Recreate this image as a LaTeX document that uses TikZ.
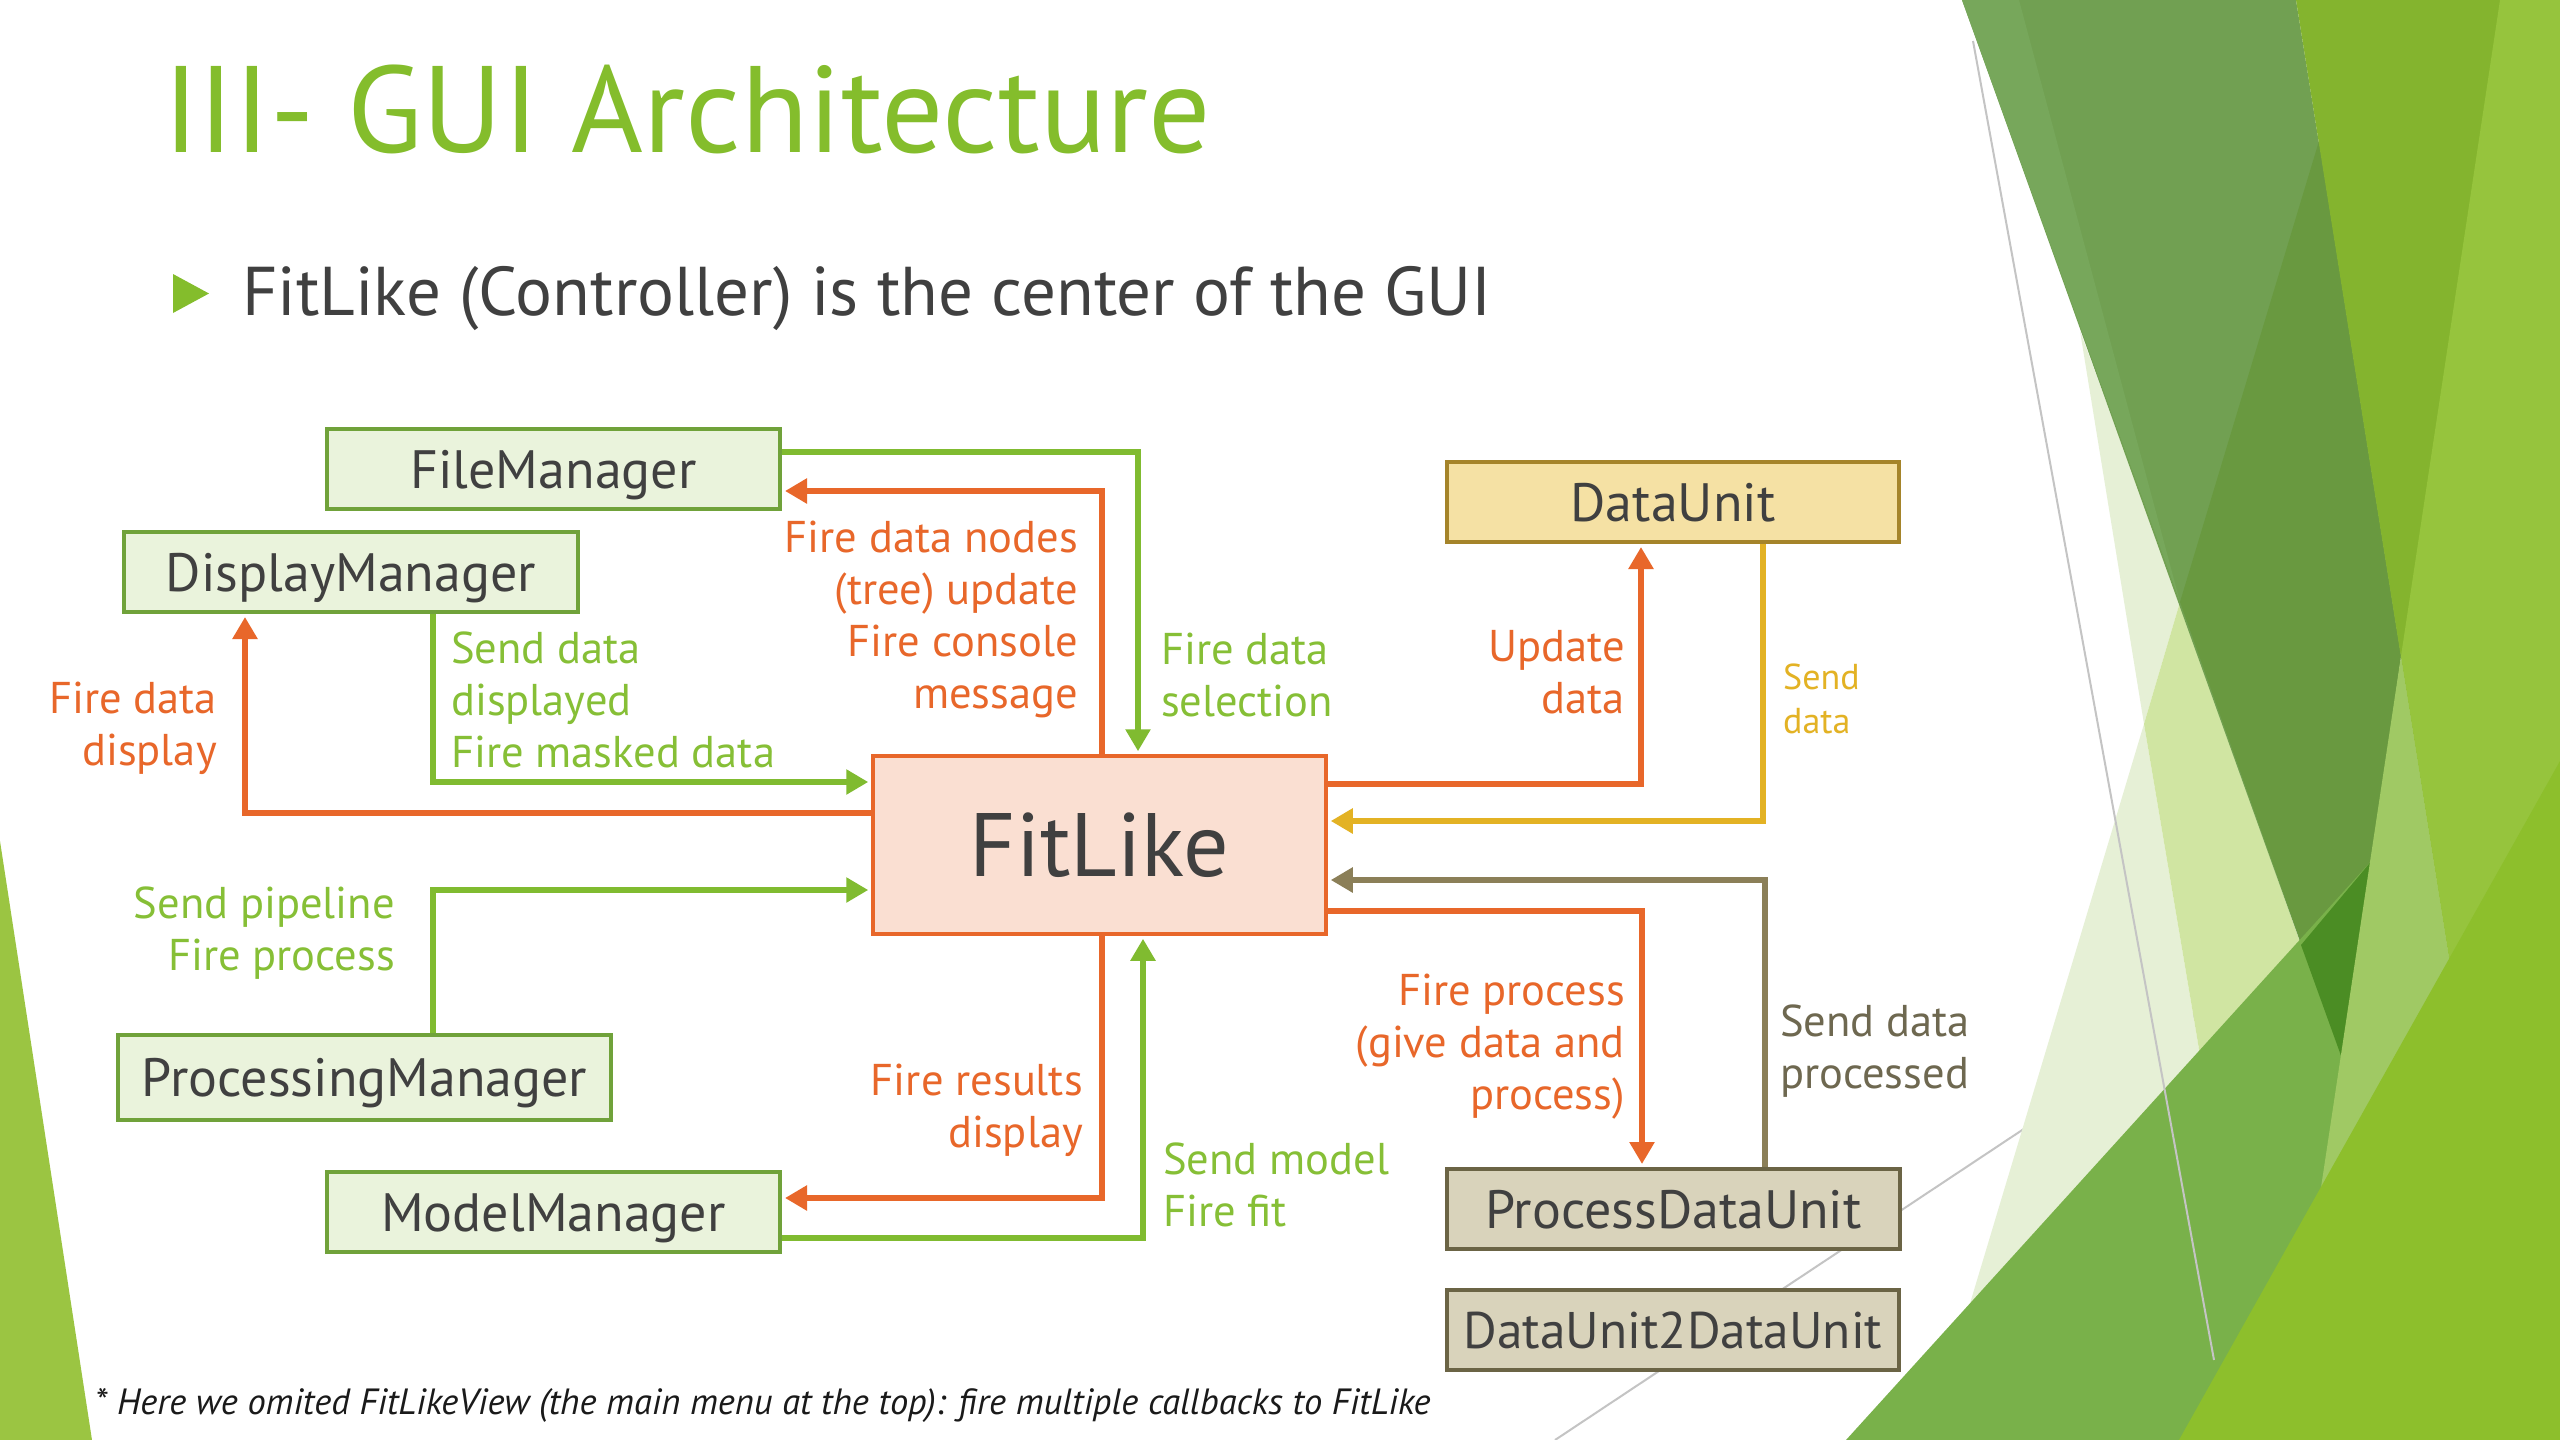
\documentclass[tikz,border=0pt]{standalone}
\usepackage{fontspec}
\setmainfont{PT Sans}
\usetikzlibrary{arrows.meta}
\definecolor{titlegreen}{HTML}{84BD2C}
\definecolor{lgreen}{HTML}{80BB30}
\definecolor{lbltxtg}{HTML}{86BF36}
\definecolor{boxgreen}{HTML}{EAF3DC}
\definecolor{boxgreenb}{HTML}{70A23A}
\definecolor{orng}{HTML}{E8672A}
\definecolor{fitfill}{HTML}{FADFD2}
\definecolor{yel}{HTML}{E3B224}
\definecolor{dufill}{HTML}{F5E1A4}
\definecolor{duborder}{HTML}{A5842A}
\definecolor{brn}{HTML}{8B7F58}
\definecolor{pdufill}{HTML}{D9D3BB}
\definecolor{pduborder}{HTML}{6B6445}
\definecolor{txt}{HTML}{404040}
\definecolor{brntxt}{HTML}{6E6850}
\definecolor{foot}{HTML}{1A1A1A}
\definecolor{leftg}{HTML}{9BC542}
\definecolor{vpale}{HTML}{E6F0D6}
\definecolor{pale}{HTML}{D0E5A2}
\definecolor{muted}{HTML}{71A052}
\definecolor{mutedl}{HTML}{77A75B}
\definecolor{mutedd}{HTML}{699940}
\definecolor{rone}{HTML}{84B42E}
\definecolor{band}{HTML}{79B14A}
\definecolor{bandd}{HTML}{4B8D24}
\definecolor{rtwo}{HTML}{A0C964}
\definecolor{rboth}{HTML}{96C43D}
\definecolor{cgreen}{HTML}{8DBF2C}
\definecolor{gline}{HTML}{C4C4C4}
\begin{document}
\begin{tikzpicture}[x=1pt,y=-1pt,
  box/.style={draw, line width=4pt, minimum height=80pt, inner sep=0pt,
    text=txt, font=\fontsize{54}{60}\selectfont, text height=38pt, text depth=0pt},
  gbox/.style={box, fill=boxgreen, draw=boxgreenb},
  lbl/.style={inner sep=0pt, font=\fontsize{44.5}{52}\selectfont},
  conn/.style={line width=6pt, -{Triangle[length=22pt,width=24pt]}, shorten >=3pt}]
\useasboundingbox (0,0) rectangle (2560,1440);
\fill[white] (0,0) rectangle (2560,1440);
% ---- decorative background ----
\fill[leftg] (0,841) -- (0,1440) -- (92,1440) -- cycle;
\draw[gline, line width=2pt] (1555,1440) -- (2301,945);
\fill[vpale] (2144,724) -- (1929,1440) -- (2100,1440) -- (2200,1055) -- cycle;
\fill[vpale] (2080,331) -- (2144,724) -- (2180,602) -- cycle;
\fill[pale] (2144,724) -- (2180,602) -- (2301,945) -- (2200,1055) -- cycle;
\fill[muted] (1962,0) -- (2296,0) -- (2401,656) -- (2344,1064) -- cycle;
\fill[mutedl] (1962,0) -- (2019,0) -- (2180,602) -- cycle;
\fill[mutedd] (2319,141) -- (2180,602) -- (2344,1064) -- (2401,656) -- cycle;
\fill[rone] (2296,0) -- (2560,0) -- (2560,1440) -- (2526,1440) -- cycle;
\fill[band] (1846,1440) -- (2374,858) -- (2283,1440) -- cycle;
\fill[bandd] (2301,945) -- (2374,858) -- (2344,1064) -- cycle;
\fill[rtwo] (2401,656) -- (2283,1440) -- (2526,1440) -- cycle;
\fill[rboth] (2500,0) -- (2560,0) -- (2560,1440) -- (2526,1440) -- (2401,656) -- cycle;
\fill[cgreen] (2179,1440) -- (2560,761) -- (2560,1440) -- cycle;
\draw[gline, line width=2pt] (1973,41) -- (2214,1360);
% ---- title ----
\node[anchor=base west, inner sep=0pt, text=titlegreen, font=\fontsize{123}{130}\selectfont] (title) at (163,152) {III- GUI Architecture};
\fill[titlegreen] (173,274) -- (173,313) -- (209,293.5) -- cycle;
\node[anchor=base west, inner sep=0pt, text=txt, font=\fontsize{69}{80}\selectfont] (sub) at (242,315) {FitLike (Controller) is the center of the GUI};
% ---- boxes ----
\node[gbox, minimum width=453pt] (fm) at (553.5,469) {FileManager};
\node[gbox, minimum width=454pt] (dm) at (351,572) {DisplayManager};
\node[gbox, minimum width=493pt, minimum height=85pt] (pm) at (364.5,1077.5) {ProcessingManager};
\node[gbox, minimum width=453pt] (mm) at (553.5,1212) {ModelManager};
\node[box, fill=fitfill, draw=orng, line width=3.5pt, minimum width=453pt, minimum height=178pt, font=\fontsize{90}{100}\selectfont, text height=63pt] (fl) at (1099.5,845) {FitLike};
\node[box, fill=dufill, draw=duborder, minimum width=452pt] (du) at (1673,502) {DataUnit};
\node[box, fill=pdufill, draw=pduborder, minimum width=453pt] (pdu) at (1673.5,1209) {ProcessDataUnit};
\node[box, fill=pdufill, draw=pduborder, minimum width=452pt, font=\fontsize{51.5}{60}\selectfont, text height=36pt] (dd) at (1673,1330) {DataUnit2DataUnit};
% ---- connector corners ----
\coordinate (g1) at (1138,452);
\coordinate (o2) at (1102,491);
\coordinate (g3) at (433,782);
\coordinate (o4) at (245,813);
\coordinate (g5) at (433,890);
\coordinate (o6) at (1102,1198);
\coordinate (g7) at (1143,1238);
\coordinate (o8) at (1641,784);
\coordinate (y9) at (1763,821);
\coordinate (b10) at (1765,880);
\coordinate (o11) at (1642,911);
% ---- connectors ----
\draw[conn, lgreen] (fm.east |- g1) -- (g1) -- (fl.north -| g1);
\draw[conn, orng] (fl.north -| o2) -- (o2) -- (fm.east |- o2);
\draw[conn, lgreen] (dm.south -| g3) -- (g3) -- (fl.west |- g3);
\draw[conn, orng] (fl.west |- o4) -- (o4) -- (dm.south -| o4);
\draw[conn, lgreen] (pm.north -| g5) -- (g5) -- (fl.west |- g5);
\draw[conn, orng] (fl.south -| o6) -- (o6) -- (mm.east |- o6);
\draw[conn, lgreen] (mm.east |- g7) -- (g7) -- (fl.south -| g7);
\draw[conn, orng] (fl.east |- o8) -- (o8) -- (du.south -| o8);
\draw[conn, yel] (du.south -| y9) -- (y9) -- (fl.east |- y9);
\draw[conn, brn] (pdu.north -| b10) -- (b10) -- (fl.east |- b10);
\draw[conn, orng] (fl.east |- o11) -- (o11) -- (pdu.north -| o11);
% ---- labels ----
\node[lbl, text=orng, anchor=east, align=right] (l1) at (1078,619) {Fire data nodes\\(tree) update\\Fire console\\message};
\node[lbl, text=lbltxtg, anchor=west, align=left] (l2) at (1161,675) {Fire data\\selection};
\node[lbl, text=lbltxtg, anchor=west, align=left] (l3) at (451,700) {Send data\\displayed\\Fire masked data};
\node[lbl, text=orng, anchor=east, align=right] (l4) at (217,728) {Fire data\\display};
\node[lbl, text=lbltxtg, anchor=east, align=right] (l5) at (395,933) {Send pipeline\\Fire process};
\node[lbl, text=orng, anchor=east, align=right] (l6) at (1083,1110) {Fire results\\display};
\node[lbl, text=lbltxtg, anchor=west, align=left] (l7) at (1163,1185) {Send model\\Fire fit};
\node[lbl, text=orng, anchor=east, align=right] (l8) at (1625,672) {Update\\data};
\node[lbl, text=yel, anchor=west, align=left, font=\fontsize{36}{44}\selectfont] (l9) at (1783,699) {Send\\data};
\node[lbl, text=brntxt, anchor=west, align=left] (l10) at (1780,1051) {Send data\\processed};
\node[lbl, text=orng, anchor=east, align=right] (l11) at (1625,1047) {Fire process\\(give data and\\process)};
% ---- footnote ----
\node[anchor=base west, inner sep=0pt, text=foot, font=\fontsize{36.5}{40}\selectfont\itshape] (fn) at (95,1414) {* Here we omited FitLikeView (the main menu at the top): fire multiple callbacks to FitLike};
\end{tikzpicture}
\end{document}
